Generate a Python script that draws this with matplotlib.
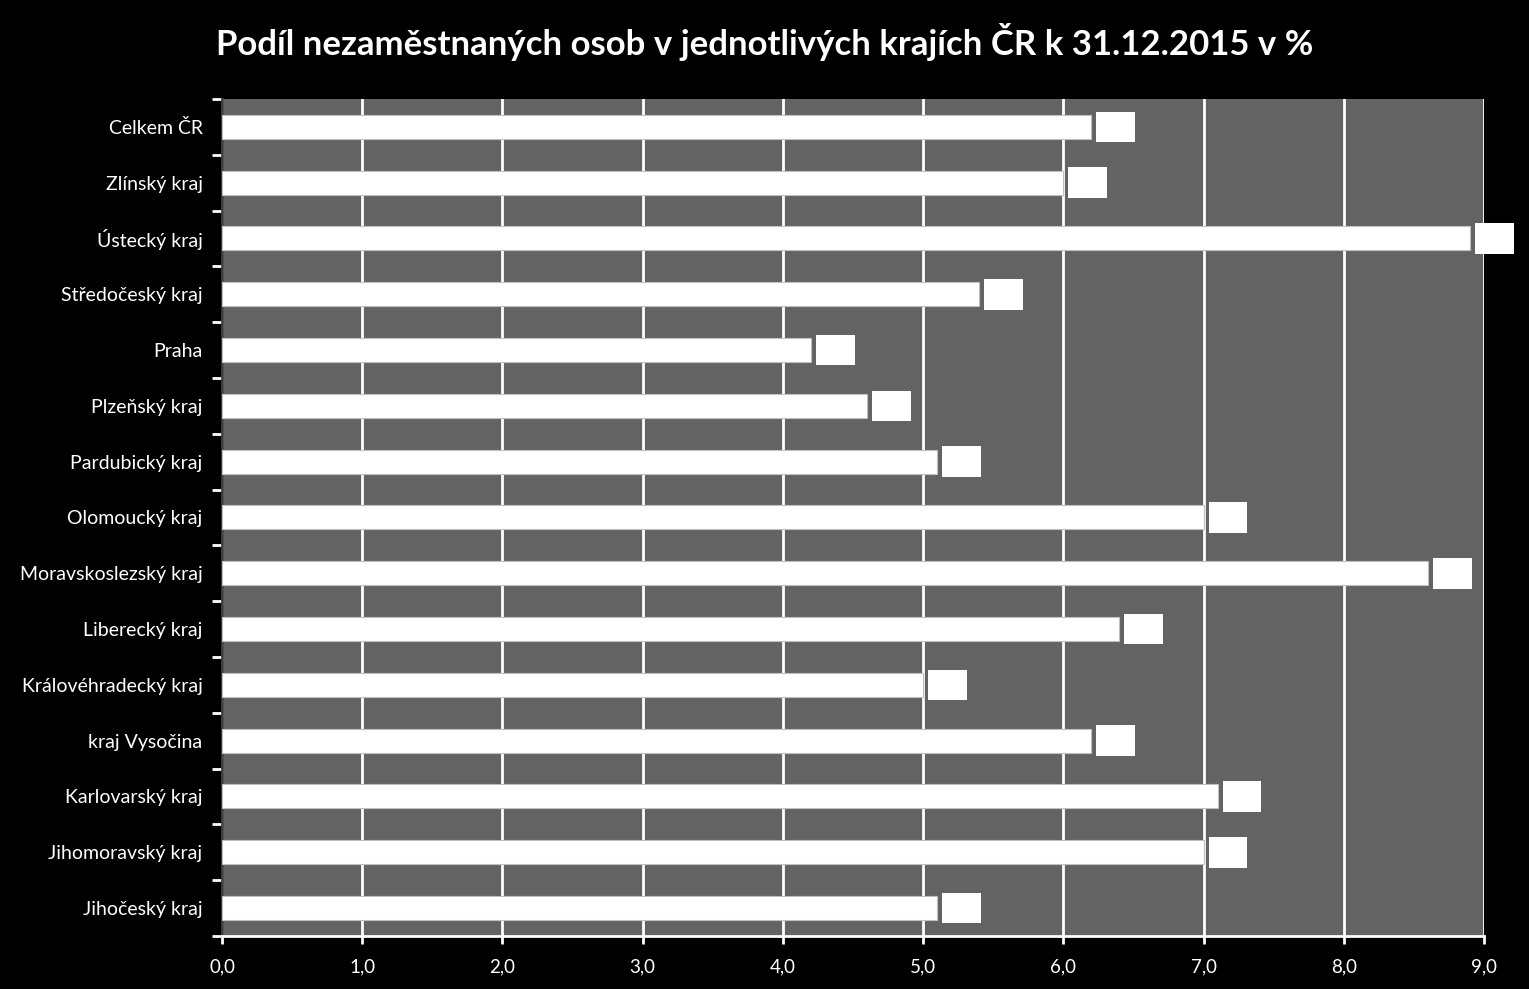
import matplotlib as mpl
mpl.use('Agg')
import matplotlib.pyplot as plt
import numpy as np

regions = ['Celkem ČR', 'Zlínský kraj', 'Ústecký kraj', 'Středočeský kraj', 'Praha',
           'Plzeňský kraj', 'Pardubický kraj', 'Olomoucký kraj', 'Moravskoslezský kraj',
           'Liberecký kraj', 'Královéhradecký kraj', 'kraj Vysočina', 'Karlovarský kraj',
           'Jihomoravský kraj', 'Jihočeský kraj']
share = [6.2, 6.0, 8.9, 5.4, 4.2, 4.6, 5.1, 7.0, 8.6, 6.4, 5.0, 6.2, 7.1, 7.0, 5.1]
xticks = [0, 1, 2, 3, 4, 5, 6, 7, 8, 9]

plt.rcParams['font.family'] = ['Lato', 'DejaVu Sans']

fig = plt.figure(figsize=(15.29, 9.89), dpi=100, facecolor='black')
ax = fig.add_axes([0.1452, 0.0536, 0.8254, 0.8464])
ax.set_facecolor('#636363')

y = np.arange(len(regions))
ax.barh(y, share, height=0.43, color='white', edgecolor='#c0c0c0', linewidth=0.8, zorder=3)

# value labels: white text on white boxes, as in the original
for yi, v in zip(y, share):
    ax.annotate(f'{v:.1f}'.replace('.', ','), (v, yi), xytext=(17.5, 0), textcoords='offset points',
                ha='center', va='center', fontsize=12.5, color='white', zorder=4,
                bbox=dict(boxstyle='square,pad=0.42', fc='white', ec='none'))

ax.set_xlim(0, 9)
ax.set_ylim(len(regions) - 0.5, -0.5)
ax.set_xticks(xticks)
ax.set_xticklabels([f'{t:.1f}'.replace('.', ',') for t in xticks])
ax.set_yticks(y)
ax.set_yticklabels(regions)
ax.set_yticks(np.arange(len(regions) + 1) - 0.5, minor=True)
ax.tick_params(axis='y', which='major', length=0, pad=14, labelsize=14, labelcolor='white')
ax.tick_params(axis='y', which='minor', length=7, width=2, color='white')
ax.tick_params(axis='x', length=6, width=2, color='white', labelsize=13.5, labelcolor='white', pad=10)

ax.grid(True, axis='x', color='white', linewidth=2, zorder=1)
ax.set_axisbelow(True)
for side in ['top', 'right']:
    ax.spines[side].set_visible(False)
ax.spines['left'].set_color('#404040')
ax.spines['left'].set_linewidth(2)
ax.spines['bottom'].set_color('white')
ax.spines['bottom'].set_linewidth(2)

fig.text(0.5, 0.958, 'Podíl nezaměstnaných osob v jednotlivých krajích ČR k 31.12.2015 v %',
         ha='center', va='center', fontsize=25, fontweight='bold', color='white')

fig.savefig('out.png', dpi=100, facecolor='black')
